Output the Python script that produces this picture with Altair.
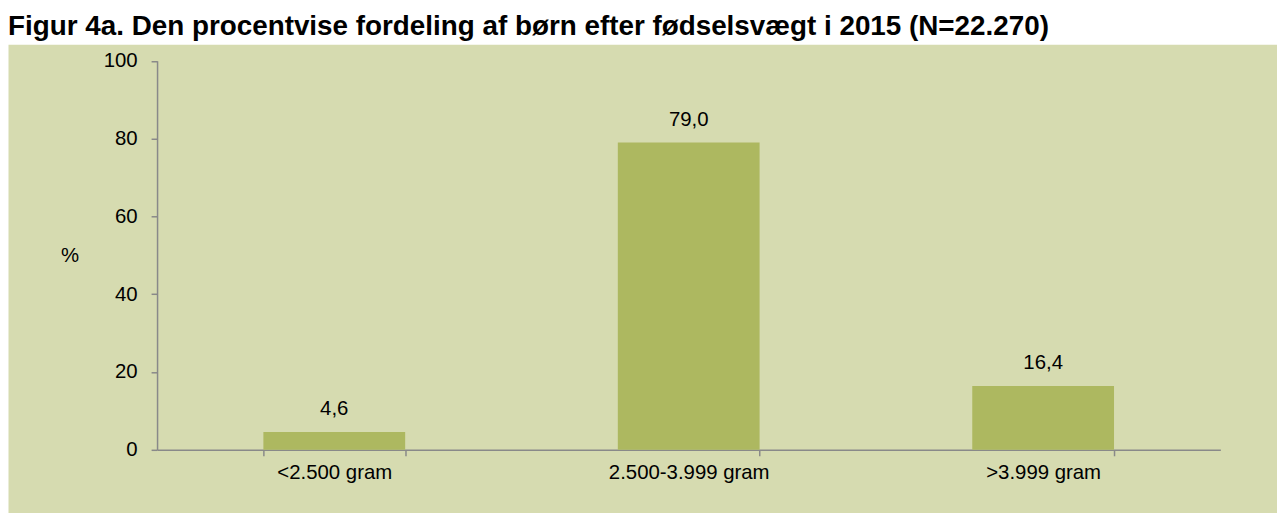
import altair as alt
import pandas as pd

categories = ["<2.500 gram", "2.500-3.999 gram", ">3.999 gram"]
values = [4.6, 79.0, 16.4]
y_ticks = [0, 20, 40, 60, 80, 100]
title_text = "Figur 4a. Den procentvise fordeling af børn efter fødselsvægt i 2015 (N=22.270)"
y_title = "%"

df = pd.DataFrame({
    "cat": categories,
    "val": values,
    "lab": [f"{v:.1f}".replace(".", ",") for v in values],
})

FONT = "Liberation Sans"
BG = "#D6DBB0"
BAR = "#ADB860"
AX = "#898989"
FS = 20.5

PAD_TOP = 4
TOP = 43  # page y of the plot-area top (below the title)
VIEW_H = 506 - (TOP - 8)

x = alt.X(
    "cat:N",
    sort=categories,
    scale=alt.Scale(range=[150, 1220], paddingInner=0.6, paddingOuter=0.3),
    axis=alt.Axis(
        title=None, labelAngle=0, offset=-(VIEW_H - (451 - TOP)), tickBand="extent",
        domainColor=AX, domainWidth=1.5, tickColor=AX, tickWidth=1.5, tickSize=6,
        labelFont=FONT, labelFontSize=FS, labelColor="#000000", labelPadding=7,
        grid=False,
    ),
)
y = alt.Y(
    "val:Q",
    scale=alt.Scale(domain=[0, 100], range=[451 - TOP, 59.5 - TOP]),
    axis=alt.Axis(
        values=y_ticks, title=y_title, titleAngle=0, titleX=-88, titleY=256 - TOP,
        titleAlign="center", titleBaseline="middle", titleFont=FONT,
        titleFontSize=FS, titleFontWeight="normal", titleColor="#000000",
        offset=-150, domainColor=AX, domainWidth=1.5, tickColor=AX,
        tickWidth=1.5, tickSize=6, labelFont=FONT, labelFontSize=FS,
        labelColor="#000000", labelPadding=14, grid=False,
    ),
)

bars = alt.Chart(df).mark_bar(color=BAR).encode(x=x, y=y)
text = alt.Chart(df).mark_text(
    font=FONT, fontSize=FS, color="#000000", baseline="alphabetic", dy=-17
).encode(x=alt.X("cat:N", sort=categories), y="val:Q", text="lab:N")

chart = alt.layer(bars, text).properties(
    width=1277,
    height=VIEW_H,
    padding={"top": PAD_TOP, "left": 0, "right": 0, "bottom": 0},
    background="white",
    autosize=alt.AutoSizeParams(type="pad"),
    title=alt.TitleParams(
        text=title_text, anchor="start", font=FONT, fontSize=28,
        fontWeight="bold", color="#000000", offset=3,
    ),
).configure_view(fill=BG, stroke="transparent")

chart.save("out.html", embed_options={"renderer": "svg", "actions": False})
